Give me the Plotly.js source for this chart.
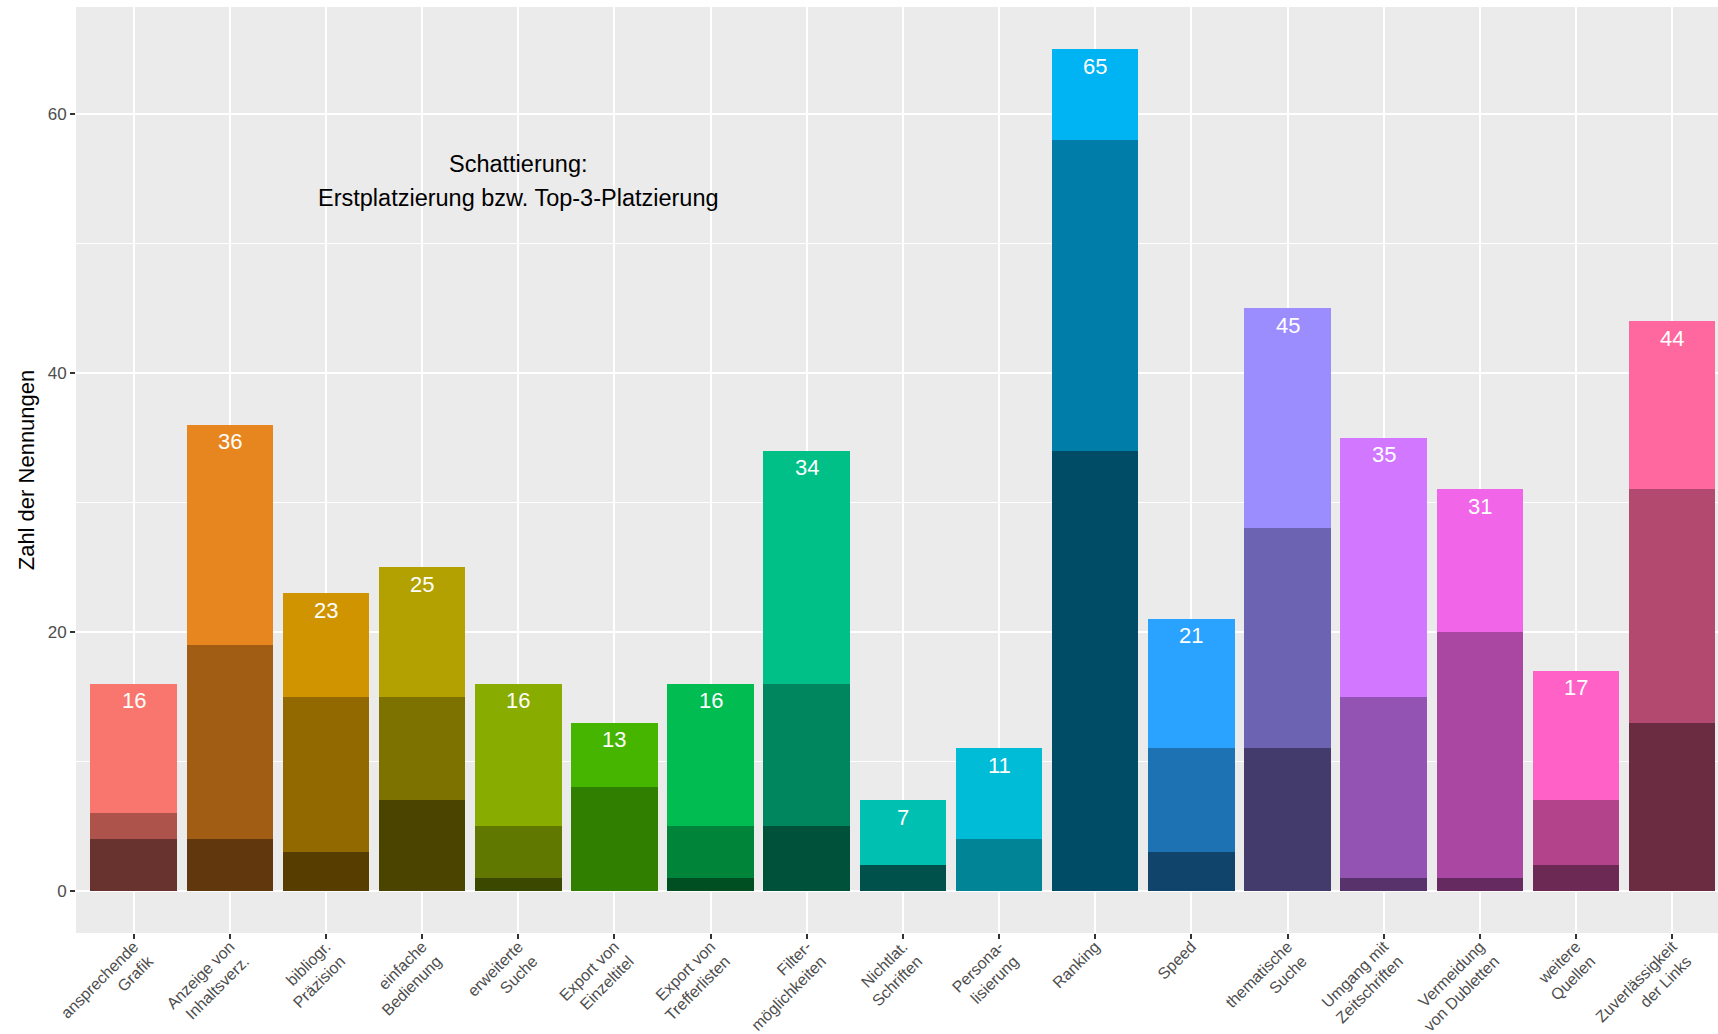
<!DOCTYPE html>
<html>
<head>
<meta charset="utf-8">
<script src="https://cdn.plot.ly/plotly-3.0.1.min.js"></script>
<style>
  html, body { margin: 0; padding: 0; background: #ffffff; }
  #chart { width: 1718px; height: 1034px; }
</style>
</head>
<body>
<div id="chart"></div>
<script>
// ---- Data ----
const categories = [
  "ansprechende<br>Grafik", "Anzeige von<br>Inhaltsverz.", "bibliogr.<br>Präzision",
  "einfache<br>Bedienung", "erweiterte<br>Suche", "Export von<br>Einzeltitel",
  "Export von<br>Trefferlisten", "Filter-<br>möglichkeiten", "Nichtlat.<br>Schriften",
  "Persona-<br>lisierung", "Ranking", "Speed", "thematische<br>Suche",
  "Umgang mit<br>Zeitschriften", "Vermeidung<br>von Dubletten", "weitere<br>Quellen",
  "Zuverlässigkeit<br>der Links"
];
const totalMentions = [16, 36, 23, 25, 16, 13, 16, 34, 7, 11, 65, 21, 45, 35, 31, 17, 44];
const top3Mentions  = [6, 19, 15, 15, 5, 8, 5, 16, 2, 4, 58, 11, 28, 15, 20, 7, 31];
const firstMentions = [4, 4, 3, 7, 1, 0, 1, 5, 2, 0, 34, 3, 11, 1, 1, 2, 13];
const yTicks = [0, 20, 40, 60];
const yTitle = "Zahl der Nennungen";
const noteLines = ["Schattierung:", "Erstplatzierung bzw. Top-3-Platzierung"];
const notePos = {x: 5, y: 55};

// ---- Styling ----
const baseColors = ["#F8766D", "#E7851E", "#D09400", "#B2A100", "#89AC00", "#45B500",
  "#00BC51", "#00C087", "#00C0B2", "#00BCD6", "#00B3F2", "#29A3FF", "#9C8DFF",
  "#D277FF", "#F166E8", "#FF61C7", "#FF689E"];
function shade(hex, f) {
  const n = parseInt(hex.slice(1), 16);
  const r = Math.round(((n >> 16) & 255) * f);
  const g = Math.round(((n >> 8) & 255) * f);
  const b = Math.round((n & 255) * f);
  return "rgb(" + r + "," + g + "," + b + ")";
}
const xs = categories.map((c, i) => i + 1);
const font = "Liberation Sans, Arial, Helvetica, sans-serif";

const darkSeg = firstMentions;
const midSeg = top3Mentions.map((v, i) => v - firstMentions[i]);
const lightSeg = totalMentions.map((v, i) => v - top3Mentions[i]);

const traces = [
  {type: "bar", x: xs, y: darkSeg, width: 0.9,
   marker: {color: baseColors.map(c => shade(c, 0.42)), line: {width: 0}},
   hoverinfo: "skip", showlegend: false},
  {type: "bar", x: xs, y: midSeg, width: 0.9,
   marker: {color: baseColors.map(c => shade(c, 0.70)), line: {width: 0}},
   hoverinfo: "skip", showlegend: false},
  {type: "bar", x: xs, y: lightSeg, width: 0.9,
   marker: {color: baseColors, line: {width: 0}},
   hoverinfo: "skip", showlegend: false}
];

const annotations = totalMentions.map((v, i) => ({
  x: xs[i], y: v, xref: "x", yref: "y", text: String(v), showarrow: false,
  yanchor: "middle", xanchor: "center", yshift: -17,
  font: {family: font, size: 22, color: "#ffffff"}
}));
noteLines.forEach((t, k) => {
  annotations.push({
    x: notePos.x, y: notePos.y, xref: "x", yref: "y", text: t, showarrow: false,
    xanchor: "center", yanchor: "middle", yshift: 15 - 34 * k,
    font: {family: font, size: 23.5, color: "#000000"}
  });
});

const layout = {
  width: 1718, height: 1034,
  margin: {l: 76, r: 0, t: 7, b: 101, pad: 0},
  paper_bgcolor: "#ffffff", plot_bgcolor: "#EBEBEB",
  barmode: "stack", bargap: 0,
  font: {family: font, color: "#4D4D4D"},
  xaxis: {
    range: [0.4, 17.477], tickvals: xs, ticktext: categories,
    tickangle: -45, tickfont: {family: font, size: 16, color: "#4D4D4D"},
    ticks: "outside", ticklen: 5, tickwidth: 2, tickcolor: "#333333",
    ticklabelstandoff: -8,
    showgrid: true, gridcolor: "#ffffff", gridwidth: 2,
    zeroline: false, showline: false, automargin: false, fixedrange: true
  },
  yaxis: {
    range: [-3.25, 68.25], tickvals: yTicks,
    tickfont: {family: font, size: 17, color: "#4D4D4D"},
    ticks: "outside", ticklen: 5, tickwidth: 2, tickcolor: "#333333",
    showgrid: true, gridcolor: "#ffffff", gridwidth: 2,
    minor: {tickvals: [10, 30, 50], showgrid: true, gridcolor: "#ffffff", gridwidth: 1, ticks: ""},
    zeroline: false, showline: false, automargin: false, fixedrange: true,
    title: {text: yTitle, standoff: 6, font: {family: font, size: 22, color: "#000000"}}
  },
  annotations: annotations
};

Plotly.newPlot("chart", traces, layout, {displayModeBar: false, staticPlot: true});
</script>
</body>
</html>
